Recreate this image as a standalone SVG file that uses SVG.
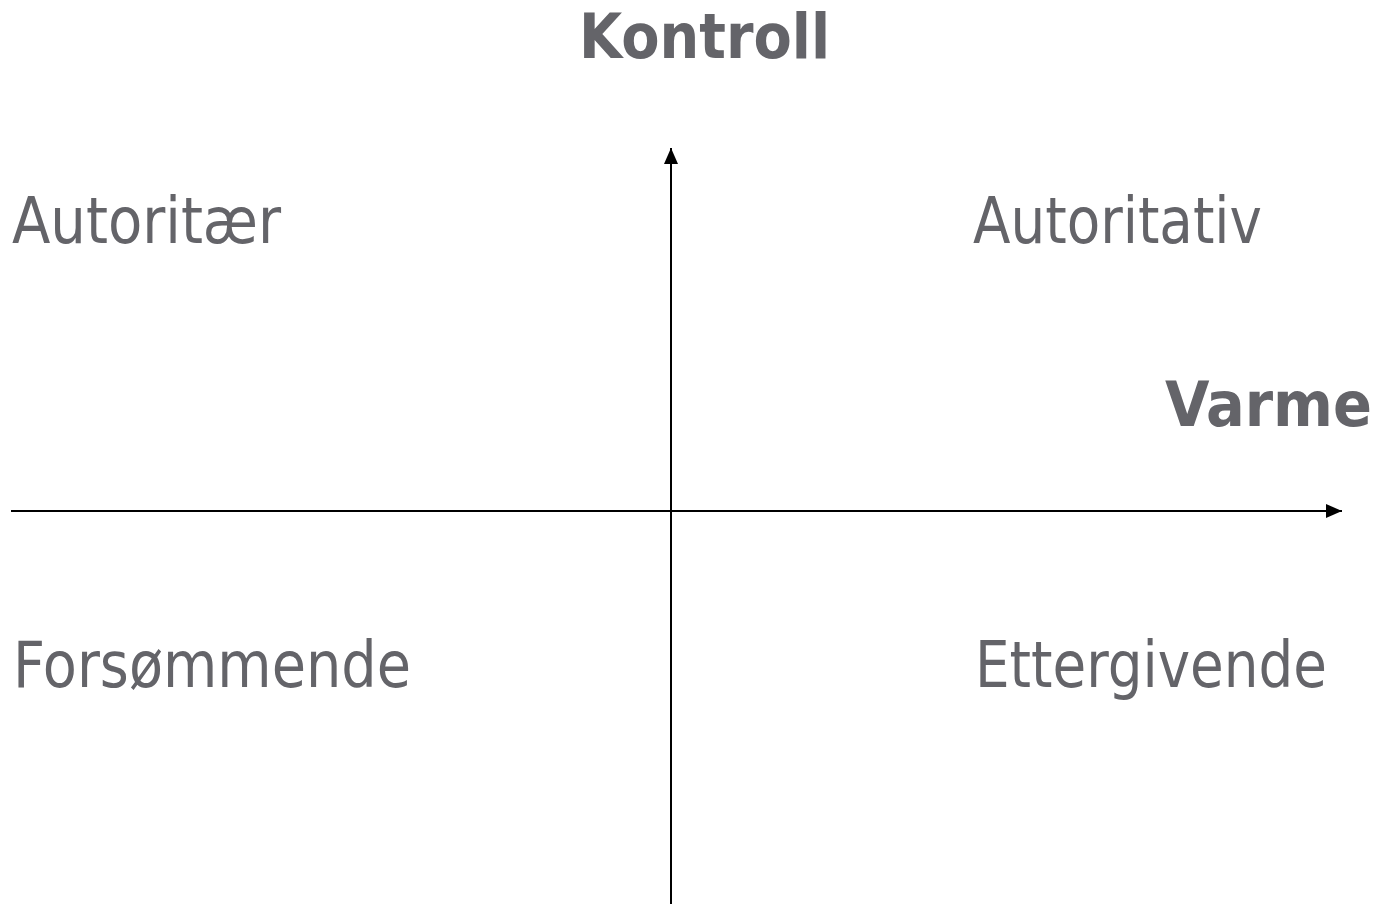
<svg xmlns="http://www.w3.org/2000/svg" width="1381" height="904" viewBox="0 0 1381 904">
<style>
.t{font-family:"DejaVu Sans Condensed","DejaVu Sans","Verdana",sans-serif;fill:#646469;font-size:64px}
.b{font-weight:bold;font-size:62px}
.ax{stroke:#000;stroke-width:2;fill:none}
</style>
<defs>
<marker id="ah" viewBox="0 0 16 14" refX="16" refY="7" markerWidth="16" markerHeight="14" markerUnits="userSpaceOnUse" orient="auto">
<path d="M0,0 L16,7 L0,14 Z" fill="#000"/>
</marker>
</defs>
<rect width="1381" height="904" fill="#fff"/>
<g id="connectors">
<line class="ax" x1="11" y1="511" x2="1342" y2="511" marker-end="url(#ah)"/>
<line class="ax" x1="671" y1="904" x2="671" y2="148" marker-end="url(#ah)"/>
</g>
<g id="kontroll"><text class="t b" x="579" y="58" textLength="251" lengthAdjust="spacingAndGlyphs">Kontroll</text></g>
<g id="varme"><text class="t b" x="1165" y="426" textLength="207" lengthAdjust="spacingAndGlyphs">Varme</text></g>
<g id="autoritaer"><text class="t" x="12" y="243" textLength="269" lengthAdjust="spacingAndGlyphs">Autoritær</text></g>
<g id="autoritativ"><text class="t" x="973" y="243" textLength="289" lengthAdjust="spacingAndGlyphs">Autoritativ</text></g>
<g id="forsommende"><text class="t" x="13" y="687" textLength="398" lengthAdjust="spacingAndGlyphs">Forsømmende</text></g>
<g id="ettergivende"><text class="t" x="975" y="687" textLength="352" lengthAdjust="spacingAndGlyphs">Ettergivende</text></g>
</svg>
